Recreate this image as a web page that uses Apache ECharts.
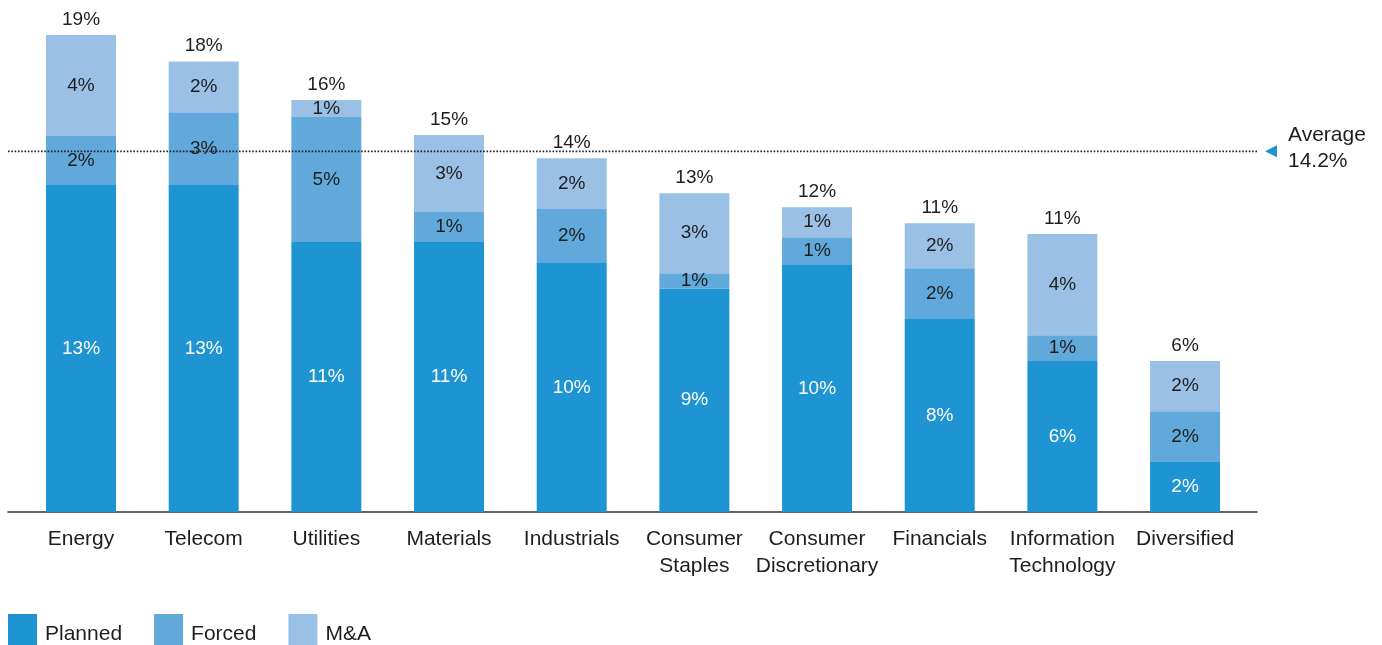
<!DOCTYPE html>
<html>
<head>
<meta charset="utf-8">
<title>Turnover by sector</title>
<script src="https://cdn.jsdelivr.net/npm/echarts@6/dist/echarts.min.js"></script>
<style>
  html, body { margin: 0; padding: 0; background: #fff; }
  #chart { width: 1382px; height: 645px; }
</style>
</head>
<body>
<div id="chart"></div>
<script>
// Sectors along the x axis
const categories = ['Energy', 'Telecom', 'Utilities', 'Materials', 'Industrials',
  'Consumer\nStaples', 'Consumer\nDiscretionary', 'Financials', 'Information\nTechnology', 'Diversified'];

// Stacked components, in percent
const planned = [12.87, 12.87, 10.63, 10.63, 9.80, 8.80, 9.72, 7.60, 5.94, 1.97];
const forced  = [1.93, 2.87, 4.92, 1.18, 2.13, 0.60, 1.10, 2.00, 1.02, 2.00];
const mna     = [3.98, 2.00, 0.67, 3.03, 2.00, 3.15, 1.18, 1.77, 3.98, 1.97];

// Cross-sector average, in percent
const average = 14.2;

const seriesNames = ['Planned', 'Forced', 'M&A'];
const colors = ['#1e94d2', '#61a8db', '#9bc0e6'];

const totals = categories.map((_, i) => Math.round((planned[i] + forced[i] + mna[i]) * 100) / 100);

const FONT = "'Liberation Sans', Arial, Helvetica, sans-serif";
const INK = '#1e1e1e';
const pct = v => Math.round(v) + '%';

function stackSeries(name, data, color, labelColor) {
  return {
    name: name,
    type: 'bar',
    stack: 'total',
    barWidth: 70,
    data: data,
    itemStyle: { color: color },
    label: {
      show: true,
      position: 'inside',
      color: labelColor,
      fontFamily: FONT,
      fontSize: 19,
      formatter: p => pct(p.value)
    },
    emphasis: { disabled: true },
    silent: true
  };
}

const chart = echarts.init(document.getElementById('chart'));

chart.setOption({
  animation: false,
  backgroundColor: '#fff',
  textStyle: { fontFamily: FONT },
  grid: [
    { left: 19.67, right: 135.6, top: 4, bottom: 133 },
    { left: 8, right: 125, top: 4, bottom: 133 }
  ],
  legend: {
    data: seriesNames,
    left: 3,
    top: 609,
    icon: 'rect',
    itemWidth: 29,
    itemHeight: 40,
    itemGap: 32,
    selectedMode: false,
    textStyle: { fontFamily: FONT, fontSize: 21, color: INK, padding: [0, 0, 0, 3] }
  },
  xAxis: [
    {
      type: 'category',
      gridIndex: 0,
      data: categories,
      axisLine: { show: false },
      axisTick: { show: false },
      axisLabel: {
        interval: 0,
        margin: 14,
        fontFamily: FONT,
        fontSize: 21,
        lineHeight: 27,
        color: INK
      }
    },
    {
      type: 'value',
      gridIndex: 1,
      min: 0,
      max: 1,
      axisLine: { show: true, onZero: false, lineStyle: { color: '#333', width: 1.5 } },
      axisTick: { show: false },
      axisLabel: { show: false },
      splitLine: { show: false }
    }
  ],
  yAxis: [
    { type: 'value', gridIndex: 0, min: 0, max: 20, show: false },
    { type: 'value', gridIndex: 1, min: 0, max: 20, show: false }
  ],
  series: [
    stackSeries('Planned', planned, colors[0], '#fff'),
    stackSeries('Forced', forced, colors[1], INK),
    stackSeries('M&A', mna, colors[2], INK),
    {
      name: 'Total',
      type: 'bar',
      stack: 'total',
      barWidth: 70,
      data: totals.map(() => 0),
      itemStyle: { color: 'transparent' },
      label: {
        show: true,
        position: 'top',
        distance: 6,
        color: INK,
        fontFamily: FONT,
        fontSize: 19,
        formatter: p => pct(totals[p.dataIndex])
      },
      silent: true
    },
    {
      name: 'Average',
      type: 'line',
      xAxisIndex: 1,
      yAxisIndex: 1,
      clip: false,
      silent: true,
      showSymbol: true,
      data: [
        { value: [0, average], symbol: 'none' },
        { value: [1, average], symbol: 'triangle', symbolSize: 12, symbolRotate: 90,
          symbolOffset: [14, 0], itemStyle: { color: colors[0] } }
      ],
      lineStyle: { color: '#222', width: 1.8, type: [1.6, 1.7] },
      endLabel: {
        show: true,
        distance: 31,
        offset: [0, -3],
        fontFamily: FONT,
        fontSize: 21,
        lineHeight: 26,
        color: INK,
        formatter: () => 'Average\n' + average.toFixed(1) + '%'
      },
      emphasis: { disabled: true }
    }
  ]
});
</script>
</body>
</html>
